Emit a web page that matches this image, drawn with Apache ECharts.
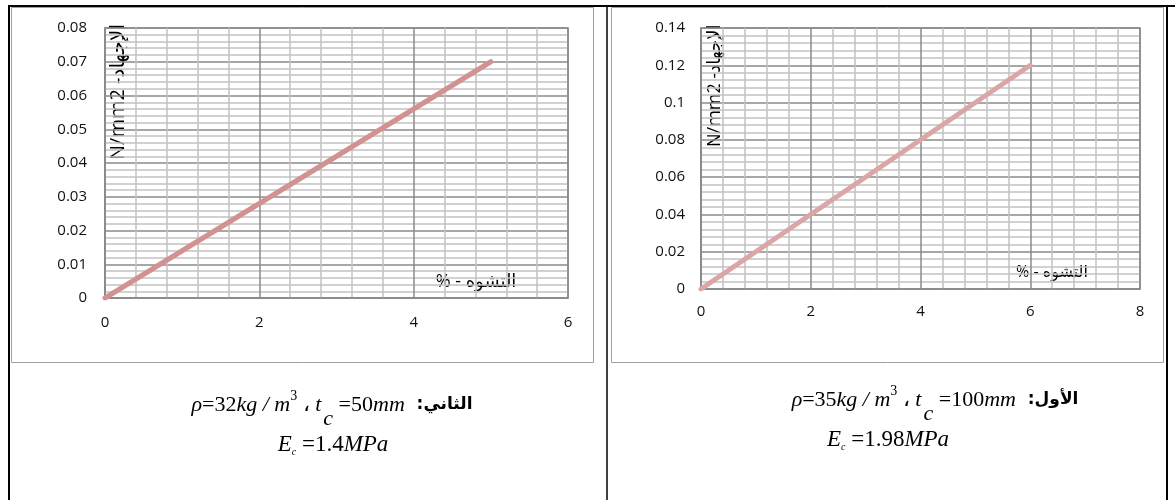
<!DOCTYPE html>
<html><head><meta charset="utf-8">
<script src="https://cdn.jsdelivr.net/npm/echarts@6/dist/echarts.min.js"></script>
<style>html,body{margin:0;padding:0;background:#fff}#c{width:1175px;height:500px}</style>
</head><body><div id="c"></div>
<script>
// ---- data ----
const leftStrain = [0, 5];          // التشوه %
const leftStress = [0, 0.07];       // الإجهاد N/mm2
const rightStrain = [0, 6];
const rightStress = [0, 0.12];
const leftXTicks = [0, 2, 4, 6];
const leftYTicks = [0, 0.01, 0.02, 0.03, 0.04, 0.05, 0.06, 0.07, 0.08];
const rightXTicks = [0, 2, 4, 6, 8];
const rightYTicks = [0, 0.02, 0.04, 0.06, 0.08, 0.1, 0.12, 0.14];
const yTitle = 'N/mm2 -الإجهاد';
const xTitle = '% - التشوه';

const chart = echarts.init(document.getElementById('c'));

const LABEL_FONT = '"Open Sans", "DejaVu Sans", sans-serif';
const MAJOR = '#8a8a8a', MINOR = '#c2c2c2';

function xAxis(gi, ticks, margin) {
  return {
    type: 'value', gridIndex: gi,
    min: ticks[0], max: ticks[ticks.length - 1], interval: ticks[1] - ticks[0],
    axisLine: { show: true, lineStyle: { color: MAJOR, width: 1.5 } },
    axisTick: { show: false },
    minorTick: { show: false, splitNumber: 5 },
    axisLabel: { margin: margin, fontSize: 15, fontFamily: LABEL_FONT, color: '#111' },
    splitLine: { show: true, lineStyle: { color: MAJOR, width: 1.5 } },
    minorSplitLine: { show: true, lineStyle: { color: MINOR, width: 1.5 } }
  };
}
function yAxis(gi, ticks, margin) {
  return {
    type: 'value', gridIndex: gi,
    min: ticks[0], max: ticks[ticks.length - 1], interval: ticks[1] - ticks[0],
    axisLine: { show: true, lineStyle: { color: MAJOR, width: 1.5 } },
    axisTick: { show: false },
    minorTick: { show: false, splitNumber: 5 },
    axisLabel: { margin: margin, fontSize: 15, fontFamily: LABEL_FONT, color: '#111' },
    splitLine: { show: true, lineStyle: { color: MAJOR, width: 1.5 } },
    minorSplitLine: { show: true, lineStyle: { color: MINOR, width: 1.5 } }
  };
}

// ---- bottom caption text (measured layout) ----
const mctx = document.createElement('canvas').getContext('2d');
function tw(font, text) { mctx.font = font; return mctx.measureText(text).width; }
const SI = 'italic 22px "Liberation Serif", "Times New Roman", serif';
const SR = '22px "Liberation Serif", "Times New Roman", serif';
const SI2 = 'italic 23px "Liberation Serif", "Times New Roman", serif';
const SR2 = '23px "Liberation Serif", "Times New Roman", serif';
const SUP = '14px "Liberation Serif", serif';
const SUBC = 'italic 22px "Liberation Serif", serif';
const SUBS = 'italic 10px "Liberation Serif", serif';
const AR = 'bold 17px "DejaVu Sans", sans-serif';

function buildLine(pieces, cx, cy) {
  let total = 0;
  pieces.forEach(p => { p.w = tw(p.font, p.text); total += p.w + (p.gap || 0); });
  let x = cx - total / 2;
  const out = [];
  pieces.forEach(p => {
    x += (p.gap || 0);
    out.push({
      type: 'text', x: x, y: cy + (p.dy || 0), silent: true,
      style: { text: p.text, font: p.font, fill: '#000', align: 'left', textAlign: 'left',
               verticalAlign: 'middle', textVerticalAlign: 'middle' }
    });
    x += p.w;
  });
  return out;
}
function line1(num, thick, arab, cx, cy) {
  return buildLine([
    { text: 'ρ', font: SI },
    { text: '=', font: SR },
    { text: num, font: SR },
    { text: 'kg / m', font: SI },
    { text: '3', font: SUP, dy: -9 },
    { text: ' ، ', font: SR },
    { text: 't', font: SI },
    { text: 'c', font: SUBC, dy: 14, gap: 2 },
    { text: ' =', font: SR },
    { text: thick, font: SR },
    { text: 'mm', font: SI },
    { text: '  :', font: AR },
    { text: arab, font: AR }
  ], cx, cy);
}
function line2(val, cx, cy) {
  return buildLine([
    { text: 'E', font: SI2 },
    { text: 'c', font: SUBS, dy: 7 },
    { text: ' =', font: SR2 },
    { text: val, font: SR2 },
    { text: 'MPa', font: SI2 }
  ], cx, cy);
}

const graphics = [
  // chart frames
  { type: 'rect', silent: true, shape: { x: 11.5, y: 7.5, width: 582, height: 355 },
    style: { fill: 'none', stroke: '#a0a0a0', lineWidth: 1 } },
  { type: 'rect', silent: true, shape: { x: 611.5, y: 7.5, width: 552, height: 355 },
    style: { fill: 'none', stroke: '#a0a0a0', lineWidth: 1 } },
  // table borders
  { type: 'line', silent: true, shape: { x1: 8, y1: 6, x2: 1175, y2: 6 }, style: { stroke: '#000', lineWidth: 2 } },
  { type: 'line', silent: true, shape: { x1: 9, y1: 5, x2: 9, y2: 500 }, style: { stroke: '#000', lineWidth: 2 } },
  { type: 'line', silent: true, shape: { x1: 607, y1: 5, x2: 607, y2: 500 }, style: { stroke: '#000', lineWidth: 1.5 } },
  { type: 'line', silent: true, shape: { x1: 1167, y1: 5, x2: 1167, y2: 500 }, style: { stroke: '#000', lineWidth: 2 } },
  // axis titles
  { type: 'text', x: 118, y: 160, rotation: Math.PI / 2, silent: true,
    style: { text: yTitle, font: '20px "Open Sans", "DejaVu Sans", sans-serif', fill: '#000',
             align: 'left', textAlign: 'left', verticalAlign: 'middle', textVerticalAlign: 'middle' } },
  { type: 'text', x: 715, y: 147, rotation: Math.PI / 2, silent: true,
    style: { text: yTitle, font: '18px "Open Sans", "DejaVu Sans", sans-serif', fill: '#000',
             align: 'left', textAlign: 'left', verticalAlign: 'middle', textVerticalAlign: 'middle' } },
  { type: 'text', x: 476, y: 282, silent: true,
    style: { text: xTitle, font: '18px "Open Sans", "DejaVu Sans", sans-serif', fill: '#000',
             align: 'center', textAlign: 'center', verticalAlign: 'middle', textVerticalAlign: 'middle' } },
  { type: 'text', x: 1052, y: 272, silent: true,
    style: { text: xTitle, font: '16px "Open Sans", "DejaVu Sans", sans-serif', fill: '#000',
             align: 'center', textAlign: 'center', verticalAlign: 'middle', textVerticalAlign: 'middle' } }
].concat(
  line1('32', '50', 'الثاني', 332, 405),
  line2('1.4', 333, 445),
  line1('35', '100', 'الأول', 935, 400),
  line2('1.98', 888, 440)
);

chart.setOption({
  animation: false,
  backgroundColor: '#fff',
  grid: [
    { left: 105, right: 1175 - 568, top: 28, bottom: 500 - 298, show: true, borderColor: MAJOR, borderWidth: 1.5 },
    { left: 701, right: 1175 - 1140, top: 28, bottom: 500 - 289, show: true, borderColor: MAJOR, borderWidth: 1.5 }
  ],
  xAxis: [xAxis(0, leftXTicks, 17), xAxis(1, rightXTicks, 15)],
  yAxis: [yAxis(0, leftYTicks, 18), yAxis(1, rightYTicks, 16)],
  series: [
    { type: 'line', xAxisIndex: 0, yAxisIndex: 0, symbol: 'none', silent: true,
      data: leftStrain.map((v, i) => [v, leftStress[i]]),
      lineStyle: { color: '#d29292', width: 5, cap: 'round' } },
    { type: 'line', xAxisIndex: 1, yAxisIndex: 1, symbol: 'none', silent: true,
      data: rightStrain.map((v, i) => [v, rightStress[i]]),
      lineStyle: { color: '#daa6a6', width: 5, cap: 'round' } }
  ],
  graphic: graphics
});
</script>
</body></html>
